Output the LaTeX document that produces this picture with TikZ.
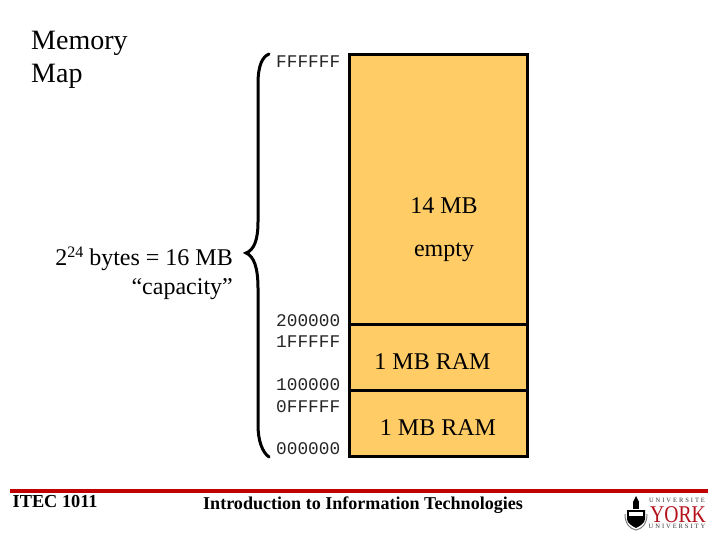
\documentclass[tikz,border=0pt]{standalone}
\usepackage{fontspec}
\setmainfont{Liberation Serif}
\setmonofont{Liberation Mono}
\definecolor{memfill}{HTML}{FFCC66}
\definecolor{barred}{HTML}{C00000}
\definecolor{yorkred}{HTML}{B5121B}
\tikzset{
 memtext/.style={font=\fontsize{24}{24}\selectfont, anchor=base, inner sep=0pt},
 titletext/.style={font=\fontsize{28}{28}\selectfont, anchor=base west, inner sep=0pt},
 addr/.style={font=\ttfamily\fontsize{17.8}{18}\selectfont, anchor=base west, inner sep=0pt, text=black!85},
 footer/.style={font=\bfseries\fontsize{18.3}{18}\selectfont, anchor=base west, inner sep=0pt},
 membox/.style={draw=black, line width=3pt, fill=memfill, anchor=north west, inner sep=0pt, minimum width=178pt},
 brace/.style={draw=black, line width=3pt, line cap=round},
 rule/.style={draw=none, fill=barred, inner sep=0pt, anchor=north west},
 tiny/.style={font=\addfontfeature{LetterSpace=30}\fontsize{6.5}{7}\selectfont, anchor=base, inner sep=0pt, text=black!80}
}
\begin{document}
\begin{tikzpicture}[x=1pt,y=-1pt]
\useasboundingbox (0,0) rectangle (720,540);
\fill[white] (0,0) rectangle (720,540);
% memory blocks
\node[membox, minimum height=269pt] (empty) at (348,53.5) {};
\node[membox, minimum height=66pt] (ramb) at (348,322.5) {};
\node[membox, minimum height=66pt] (rama) at (348,388.5) {};
% titles
\node[titletext] (t1) at (31,50) {Memory};
\node[titletext] (t2) at (31,83) {Map};
% addresses
\node[addr] (a1) at (276,68) {FFFFFF};
\node[addr] (a2) at (276,326) {200000};
\node[addr] (a3) at (276,347) {1FFFFF};
\node[addr] (a4) at (276,390) {100000};
\node[addr] (a5) at (276,412) {0FFFFF};
\node[addr] (a6) at (276,454) {000000};
% block labels
\node[memtext] (l1) at (444,214) {14 MB};
\node[memtext] (l2) at (444,256) {empty};
\node[memtext] (l3) at (432.5,369) {1 MB RAM};
\node[memtext] (l4) at (438,435) {1 MB RAM};
% capacity
\node[memtext, anchor=base east] (c1) at (233,265) {2\raisebox{8pt}{\fontsize{16}{16}\selectfont 24} bytes = 16 MB};
\node[memtext, anchor=base east] (c2) at (233,294) {“capacity”};
% brace
\path[brace] (269,54) .. controls (262,57) and (258,66) .. (258,84)
 -- (258,222) .. controls (258,240) and (254,250) .. (246,253)
 .. controls (254,256) and (258,268) .. (258,288)
 -- (258,425) .. controls (258,440) and (262,452) .. (269,457);
% footer
\node[rule, minimum width=698pt, minimum height=4pt] (bar) at (10,489) {};
\node[footer] (f1) at (12.5,507.5) {ITEC 1011};
\node[footer, font=\bfseries\fontsize{18.07}{18}\selectfont] (f2) at (203,509) {Introduction to Information Technologies};
% logo
\node[tiny] (u1) at (677,502) {UNIVERSITE};
\node[font=\fontsize{24}{24}\selectfont, text=yorkred, anchor=base, inner sep=0pt, xscale=0.82] (york) at (678,522) {YORK};
\node[tiny] (u2) at (677,528.5) {UNIVERSITY};
\fill[black] (627,510) -- (645,510) -- (645,519) .. controls (645,523) and (640,526) .. (636,528)
 .. controls (632,526) and (627,523) .. (627,519) -- cycle;
\fill[white] (629,512) rectangle (643,516);
\fill[black] (633,509) rectangle (639,502);
\fill[black] (636,496) -- (639,502) -- (633,502) -- cycle;
\draw[black!50, line width=1pt] (625,514) .. controls (625,524) and (630,529) .. (636,530)
 .. controls (642,529) and (647,524) .. (647,514);
\end{tikzpicture}
\end{document}
